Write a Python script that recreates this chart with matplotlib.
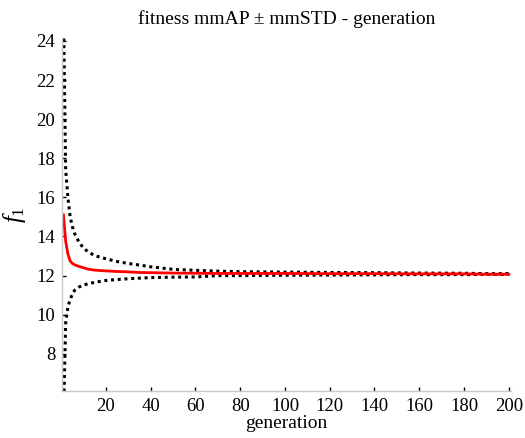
import matplotlib
matplotlib.use("Agg")
import matplotlib.pyplot as plt

# values
generation = [1, 2, 3, 4, 5, 6, 8, 10, 12, 15, 20, 25, 30, 35, 40, 50, 60,
              70, 80, 100, 120, 140, 160, 180, 190, 200]
mm_ap = [15.1, 13.75, 13.1, 12.75, 12.62, 12.55, 12.47, 12.4, 12.33, 12.28,
         12.24, 12.21, 12.19, 12.16, 12.15, 12.13, 12.12, 12.11, 12.11, 12.11,
         12.1, 12.1, 12.09, 12.09, 12.07, 12.07]
upper = [25.5, 17.4, 16.0, 15.0, 14.5, 14.15, 13.7, 13.4, 13.22, 13.02,
         12.86, 12.72, 12.62, 12.54, 12.45, 12.32, 12.27, 12.23, 12.2, 12.18,
         12.16, 12.15, 12.13, 12.12, 12.1, 12.1]
lower = [4.7, 9.6, 10.4, 10.78, 11.05, 11.25, 11.42, 11.52, 11.58, 11.66,
         11.75, 11.8, 11.84, 11.87, 11.9, 11.92, 11.93, 12.0, 12.0, 12.02,
         12.03, 12.04, 12.05, 12.05, 12.06, 12.06]
x_ticks = [20, 40, 60, 80, 100, 120, 140, 160, 180, 200]
y_ticks = [8, 10, 12, 14, 16, 18, 20, 22, 24]

plt.rcParams['font.family'] = ['Liberation Serif', 'DejaVu Serif']
plt.rcParams['mathtext.fontset'] = 'custom'
plt.rcParams['mathtext.rm'] = 'Liberation Serif'
plt.rcParams['mathtext.it'] = 'Liberation Serif:italic'

fig = plt.figure(figsize=(5.25, 4.38), dpi=100)
ax = fig.add_axes([0.1187, 0.1073, 0.8546, 0.806])

dot = dict(color='black', linewidth=2.2, linestyle=(0, (1, 1.2)),
           dash_capstyle='butt')
ax.plot(generation, upper, **dot)
ax.plot(generation, lower, **dot)
ax.plot(generation, mm_ap, color='#ff0000', linewidth=2)

ax.set_xlim(0.5, 201)
ax.set_ylim(6.1, 24.15)
ax.set_xticks(x_ticks)
ax.set_yticks(y_ticks)

for s in ['top', 'right']:
    ax.spines[s].set_visible(False)
for s in ['left', 'bottom']:
    ax.spines[s].set_color('#c8c8c8')
    ax.spines[s].set_linewidth(1)

ax.tick_params(direction='in', length=3, width=1, color='black',
               labelsize=13.5, pad=5)

ax.set_title('fitness mmAP \u00b1 mmSTD - generation', fontsize=14, pad=10)
ax.set_xlabel('generation', fontsize=14, labelpad=0)
ax.set_ylabel('$f_1$', fontsize=18, labelpad=6)

fig.savefig('out.png', dpi=100)
